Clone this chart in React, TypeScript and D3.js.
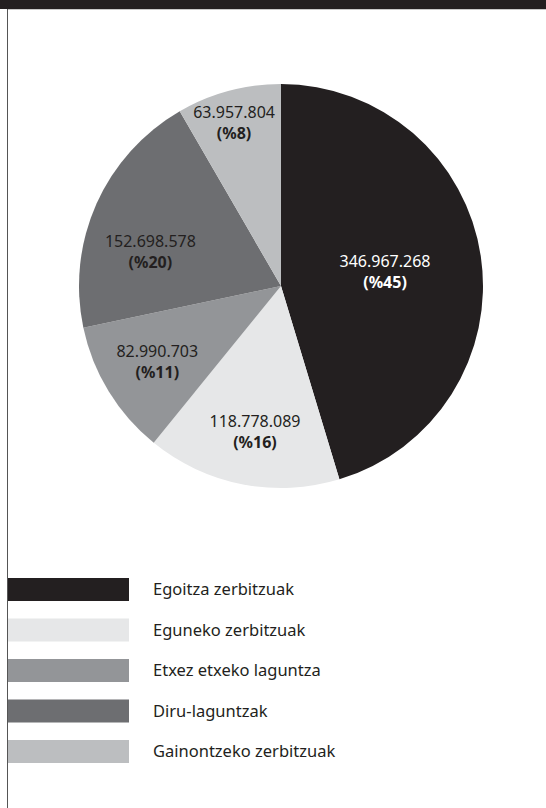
import React, { useEffect, useRef } from "react";
import * as d3 from "d3";

const categories = [
  "Egoitza zerbitzuak",
  "Eguneko zerbitzuak",
  "Etxez etxeko laguntza",
  "Diru-laguntzak",
  "Gainontzeko zerbitzuak",
];
const amounts = [346967268, 118778089, 82990703, 152698578, 63957804];
const percentLabels = ["%45", "%16", "%11", "%20", "%8"];
const colors = ["#231f20", "#e6e7e8", "#939598", "#6d6e71", "#bcbec0"];

// label placement tweaks (radius, angle shift in degrees) per slice
const labelRadius = [105, 148, 145, 135, 170];
const labelShift = [0.7, -1, 0, -9.4, -1];

const W = 546;
const H = 808;

const App = () => {
  const svgRef = useRef(null);

  useEffect(() => {
    document.body.style.margin = "0";
    const svg = d3.select(svgRef.current);
    svg.selectAll("*").remove();

    const font = "'Noto Sans', sans-serif";

    // frame
    svg.append("rect").attr("x", 0).attr("y", 0).attr("width", W).attr("height", 9).attr("fill", "#231f20");
    svg.append("line").attr("x1", 7).attr("x2", W).attr("y1", 9.5).attr("y2", 9.5).attr("stroke", "#c8c8c8");
    svg.append("line").attr("x1", 7.5).attr("x2", 7.5).attr("y1", 9).attr("y2", H).attr("stroke", "#555");

    const cx = 281;
    const cy = 286;
    const r = 202;

    const pie = d3.pie<number>().sort(null).value((d) => d);
    const arcs = pie(amounts);
    const arc = d3.arc<d3.PieArcDatum<number>>().innerRadius(0).outerRadius(r);

    const g = svg.append("g").attr("transform", `translate(${cx},${cy})`);
    g.selectAll("path")
      .data(arcs)
      .join("path")
      .attr("d", arc)
      .attr("fill", (d, i) => colors[i]);

    const fmt = (v: number) => d3.format(",")(v).replace(/,/g, ".");

    arcs.forEach((a, i) => {
      const mid = (a.startAngle + a.endAngle) / 2 + (labelShift[i] * Math.PI) / 180;
      const x = Math.sin(mid) * labelRadius[i];
      const y = -Math.cos(mid) * labelRadius[i];
      const fill = i === 0 ? "#ffffff" : "#231f20";
      const t = g
        .append("text")
        .attr("text-anchor", "middle")
        .attr("font-family", font)
        .attr("font-size", 16)
        .attr("fill", fill);
      t.append("tspan").attr("x", x).attr("y", y - 5).text(fmt(amounts[i]));
      t.append("tspan")
        .attr("x", x)
        .attr("y", y + 16)
        .attr("font-weight", "bold")
        .text(`(${percentLabels[i]})`);
    });

    // legend
    const ly = d3.scaleBand().domain(categories).range([578, 763]).paddingInner(0.432).paddingOuter(0);
    const legend = svg.append("g");
    legend
      .selectAll("rect")
      .data(categories)
      .join("rect")
      .attr("x", 8)
      .attr("y", (d) => ly(d))
      .attr("width", 121)
      .attr("height", ly.bandwidth())
      .attr("fill", (d, i) => colors[i]);
    legend
      .selectAll("text")
      .data(categories)
      .join("text")
      .attr("x", 153)
      .attr("y", (d) => ly(d) + ly.bandwidth() / 2)
      .attr("dy", "0.35em")
      .attr("font-family", font)
      .attr("font-size", 16.5)
      .attr("fill", "#231f20")
      .text((d) => d);
  }, []);

  return <svg ref={svgRef} width={W} height={H} style={{ display: "block", background: "#fff" }} />;
};

export default App;
